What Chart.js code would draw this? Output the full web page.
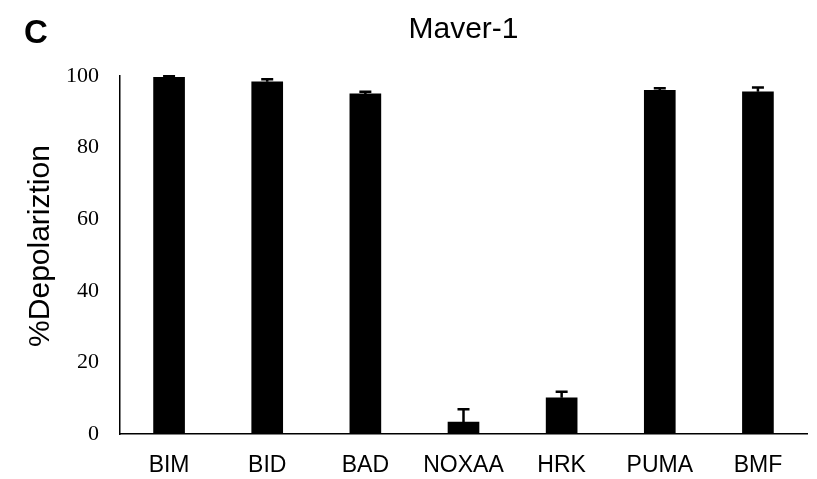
<!DOCTYPE html>
<html>
<head>
<meta charset="utf-8">
<script src="https://cdn.jsdelivr.net/npm/chart.js@4/dist/chart.umd.min.js"></script>
<style>
  html, body { margin: 0; padding: 0; background: #fff; }
  #wrap { width: 817px; height: 479px; position: relative; }
</style>
</head>
<body>
<div id="wrap"><canvas id="c" width="817" height="479"></canvas></div>
<script>
const categories = ['BIM', 'BID', 'BAD', 'NOXAA', 'HRK', 'PUMA', 'BMF'];
const depolarization = [99.6, 98.4, 95.0, 3.3, 10.1, 96.0, 95.6];
const errorUp = [0.3, 0.7, 0.6, 3.6, 1.7, 0.6, 1.2];
const yTicks = [0, 20, 40, 60, 80, 100];
const panelLetter = 'C';
const chartTitle = 'Maver-1';
const yTitle = '%Depolariztion';

const annotations = {
  id: 'annotations',
  afterDraw(chart) {
    const ctx = chart.ctx;
    const ca = chart.chartArea;
    ctx.save();
    ctx.fillStyle = '#000';
    ctx.font = 'bold 33px "Liberation Sans", Arial, sans-serif';
    ctx.textAlign = 'left';
    ctx.textBaseline = 'alphabetic';
    ctx.fillText(panelLetter, 24, 43);
    ctx.font = '30px "Liberation Sans", Arial, sans-serif';
    ctx.textAlign = 'center';
    ctx.fillText(chartTitle, (ca.left + ca.right) / 2, 38);
    ctx.translate(41, 246);
    ctx.rotate(-Math.PI / 2);
    ctx.font = '30px "Liberation Sans", Arial, sans-serif';
    ctx.textBaseline = 'middle';
    ctx.fillText(yTitle, 0, 0);
    ctx.restore();
  }
};

const errorBars = {
  id: 'errorBars',
  afterDatasetsDraw(chart) {
    const ctx = chart.ctx;
    const yScale = chart.scales.y;
    const meta = chart.getDatasetMeta(0);
    ctx.save();
    ctx.strokeStyle = '#000';
    ctx.lineWidth = 2.5;
    meta.data.forEach((bar, i) => {
      const v = depolarization[i];
      const e = errorUp[i];
      const x = bar.x;
      const y0 = yScale.getPixelForValue(v);
      const y1 = yScale.getPixelForValue(v + e);
      ctx.beginPath();
      ctx.moveTo(x, y0);
      ctx.lineTo(x, y1);
      ctx.moveTo(x - 6, y1);
      ctx.lineTo(x + 6, y1);
      ctx.stroke();
    });
    ctx.restore();
  }
};

new Chart(document.getElementById('c'), {
  type: 'bar',
  data: {
    labels: categories,
    datasets: [{
      data: depolarization,
      backgroundColor: '#000',
      borderWidth: 0,
      barThickness: 31
    }]
  },
  options: {
    responsive: false,
    animation: false,
    devicePixelRatio: 1,
    layout: { padding: { left: 0, right: 10, top: 76, bottom: 0 } },
    plugins: {
      legend: { display: false },
      title: { display: false },
      tooltip: { enabled: false }
    },
    scales: {
      x: {
        grid: { display: false, drawTicks: false },
        border: { display: true, color: '#000', width: 1.5 },
        ticks: {
          color: '#000',
          padding: 18,
          font: { family: '"Liberation Sans", Arial, sans-serif', size: 23 }
        },
        afterFit(scale) { scale.height = 45; }
      },
      y: {
        min: 0,
        max: 100,
        grid: { display: false, drawTicks: false },
        border: { display: true, color: '#000', width: 1.5 },
        afterBuildTicks(scale) { scale.ticks = yTicks.map(v => ({ value: v })); },
        ticks: {
          color: '#000',
          padding: 21,
          font: { family: '"Liberation Serif", "Times New Roman", serif', size: 22 }
        },
        afterFit(scale) { scale.width = 120; }
      }
    }
  },
  plugins: [errorBars, annotations]
});
</script>
</body>
</html>
